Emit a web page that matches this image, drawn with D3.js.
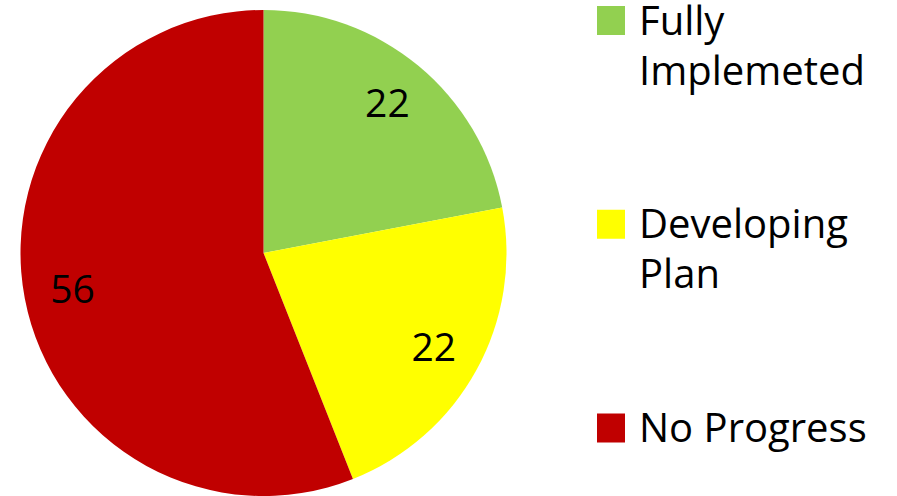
<!DOCTYPE html>
<html>
<head>
<meta charset="utf-8">
<script src="https://cdn.jsdelivr.net/npm/d3@7"></script>
<style>
  html, body { margin: 0; padding: 0; background: #fff; }
  svg { display: block; }
</style>
</head>
<body>
<svg id="chart" width="897" height="496"></svg>
<script>
const categories = ["Fully Implemeted", "Developing Plan", "No Progress"];
const legendLines = [["Fully", "Implemeted"], ["Developing", "Plan"], ["No Progress"]];
const values = [22, 22, 56];
const colors = ["#92D050", "#FFFF00", "#C00000"];

const svg = d3.select("#chart");
const W = 897, H = 496;
const cx = 263.5, cy = 253, R = 243;
const font = "'Open Sans', 'Liberation Sans', sans-serif";

const pie = d3.pie().sort(null).value(d => d)(values);
const arc = d3.arc().innerRadius(0).outerRadius(R);
const labelArc = d3.arc().innerRadius(R * 0.8).outerRadius(R * 0.8);

const g = svg.append("g").attr("transform", `translate(${cx},${cy})`);
g.selectAll("path.slice").data(pie).enter().append("path")
  .attr("class", "slice")
  .attr("d", arc)
  .attr("fill", (d, i) => colors[i]);

g.selectAll("text.lbl").data(pie).enter().append("text")
  .attr("class", "lbl")
  .attr("transform", d => { const c = labelArc.centroid(d); return `translate(${c[0]},${c[1]})`; })
  .attr("text-anchor", "middle")
  .attr("dy", "0.36em")
  .attr("font-family", font)
  .attr("font-size", 39)
  .attr("fill", "#000")
  .text(d => d.data);

// legend
const legendY = d3.scalePoint().domain(categories).range([20.5, 428]);
const lg = svg.append("g");
categories.forEach((c, i) => {
  const y = legendY(c);
  lg.append("rect")
    .attr("x", 597).attr("y", y - 14.5)
    .attr("width", 28).attr("height", 29)
    .attr("fill", colors[i]);
  const t = lg.append("text")
    .attr("x", 639).attr("y", y + 14)
    .attr("font-family", font)
    .attr("font-size", 40)
    .attr("fill", "#000");
  legendLines[i].forEach((line, j) => {
    t.append("tspan").attr("x", 639).attr("dy", j === 0 ? 0 : 50).text(line);
  });
});
</script>
</body>
</html>
